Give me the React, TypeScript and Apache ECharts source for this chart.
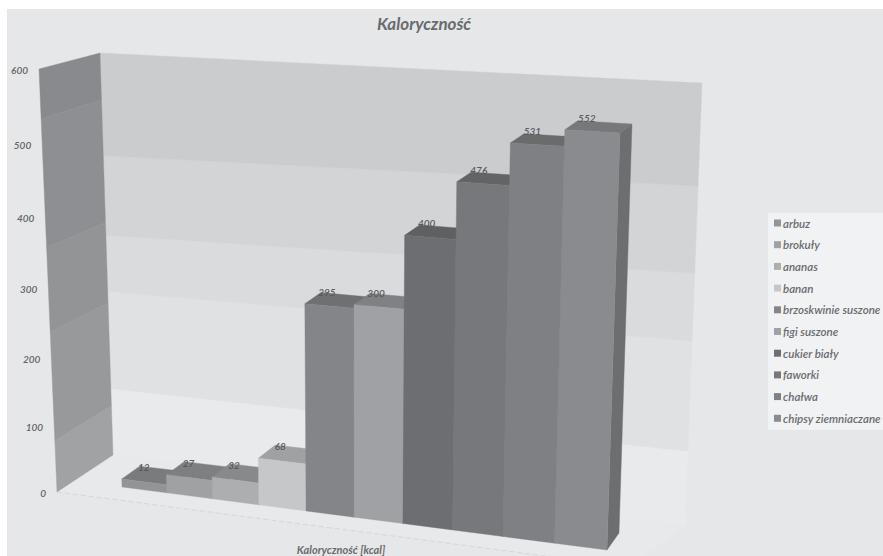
import React, { useEffect, useRef } from "react";
import * as echarts from "echarts";

// Foods and their energy values in kcal
const categories = [
  "arbuz",
  "brokuły",
  "ananas",
  "banan",
  "brzoskwinie suszone",
  "figi suszone",
  "cukier biały",
  "faworki",
  "chałwa",
  "chipsy ziemniaczane",
];
const kcalValues = [12, 27, 32, 68, 295, 300, 400, 476, 531, 552];
const yTicks = [0, 100, 200, 300, 400, 500, 600];

// Shades of each column: front, top
const frontColors = ["#939496", "#a0a1a3", "#adaeb0", "#c6c7c9", "#848588", "#a0a1a4", "#6d6e71", "#77787b", "#7f8083", "#8a8b8e"];
const topColors = ["#7a7b7d", "#7e7f81", "#88898b", "#a0a1a3", "#6f7072", "#808184", "#5f6062", "#636466", "#6a6b6d", "#77787a"];
const sideColor = "#6d6e70";

// Gradient-like steps on the walls, in axis units, at the wall's two vertical edges
const backWallStopsNear = [0, 103, 251, 335, 452, 600];
const backWallStopsFar = [0, 106, 258, 350, 466, 600];
const backWallColors = ["#e9eaec", "#e0e1e3", "#dadbdd", "#d3d4d6", "#cbccce"];
const sideWallStops = [0, 78, 237, 357, 534, 600];
const sideWallColors = ["#a1a2a4", "#98999b", "#939496", "#8e8f92", "#898a8d"];

type Pt = [number, number];

// Maps the unit square (u, v) on to a quadrilateral: a plane seen in perspective
function planeMap(bl: Pt, br: Pt, tr: Pt, tl: Pt) {
  const dx1 = br[0] - tr[0];
  const dx2 = tl[0] - tr[0];
  const sx = bl[0] - br[0] + tr[0] - tl[0];
  const dy1 = br[1] - tr[1];
  const dy2 = tl[1] - tr[1];
  const sy = bl[1] - br[1] + tr[1] - tl[1];
  const den = dx1 * dy2 - dx2 * dy1;
  const g = (sx * dy2 - dx2 * sy) / den;
  const h = (dx1 * sy - sx * dy1) / den;
  const a = br[0] - bl[0] + g * br[0];
  const b = tl[0] - bl[0] + h * tl[0];
  const c = bl[0];
  const d = br[1] - bl[1] + g * br[1];
  const e = tl[1] - bl[1] + h * tl[1];
  const f = bl[1];
  return (u: number, v: number): Pt => {
    const w = g * u + h * v + 1;
    return [(a * u + b * v + c) / w, (d * u + e * v + f) / w];
  };
}

// Hidden grid that supplies the scales
const GRID = { left: 100, top: 50, width: 500, height: 400 };
const BAR_REF = 552;

const frontPlane = planeMap([122, 487], [607, 550], [620, 133], [111, 103]);
const backPlane = planeMap([140, 474], [619, 533], [632, 124], [127, 94]);
const backWall = planeMap([113, 455], [685, 526], [702, 83], [100, 53]);
const sideWall = planeMap([57, 492], [113, 455], [100, 53], [39, 69]);

const FONT = "Lato, 'Open Sans', sans-serif";
const GREY_TEXT = "#6a6b6e";

const valueV = (api: any, value: number) => (GRID.top + GRID.height - api.coord([0, value])[1]) / GRID.height;
const poly = (points: Pt[], fill: string) => ({ type: "polygon", shape: { points }, style: { fill, stroke: fill, lineWidth: 0.4 } });
const label = (text: string, x: number, y: number, align: string, font: string, fill: string) => ({
  type: "text",
  x,
  y,
  style: { text, font, fill, align, textAlign: align, verticalAlign: "middle", textVerticalAlign: "middle" },
});

// Banded wall: each datum is one band between two axis values, given per edge
function bandSeries(
  name: string,
  map: (u: number, v: number) => Pt,
  stopsNear: number[],
  stopsFar: number[],
  colors: string[],
  z: number,
) {
  return {
    type: "custom",
    name,
    coordinateSystem: "cartesian2d",
    silent: true,
    z,
    encode: { x: 0, y: 1 },
    data: colors.map((_, i) => [0, stopsNear[i], stopsNear[i + 1], stopsFar[i], stopsFar[i + 1]]),
    renderItem: (params: any, api: any) => {
      const lo0 = valueV(api, api.value(1));
      const hi0 = valueV(api, api.value(2));
      const lo1 = valueV(api, api.value(3));
      const hi1 = valueV(api, api.value(4));
      return poly([map(0, lo0), map(1, lo1), map(1, hi1), map(0, hi0)], colors[params.dataIndex]);
    },
  };
}

// One column: right side, top and front, then its value above the top face
function columnSeries(index: number) {
  return {
    type: "custom",
    name: categories[index],
    coordinateSystem: "cartesian2d",
    z: 10 + index,
    itemStyle: { color: frontColors[index] },
    encode: { x: 0, y: 1 },
    data: [[index, kcalValues[index]]],
    renderItem: (_: any, api: any) => {
      const value = api.value(1);
      const centre = api.coord([api.value(0), value]);
      const band = api.size([1, 0])[0];
      const u0 = (centre[0] - band / 2 - GRID.left) / GRID.width;
      const u1 = (centre[0] + band / 2 - GRID.left) / GRID.width;
      const v = (valueV(api, value) * 600) / BAR_REF;
      const fl = frontPlane(u0, v);
      const fr = frontPlane(u1, v);
      const bl = backPlane(u0, v);
      const br = backPlane(u1, v);
      const fr0 = frontPlane(u1, 0);
      const br0 = backPlane(u1, 0);
      const fl0 = frontPlane(u0, 0);
      return {
        type: "group",
        children: [
          poly([fr, br, br0, fr0], sideColor),
          poly([fl, bl, br, fr], topColors[index]),
          poly([fl, fr, fr0, fl0], frontColors[index]),
          label(String(value), fl[0] + 22, fl[1] - 12, "center", `italic 600 10px ${FONT}`, "#58595c"),
        ],
      };
    },
  };
}

function buildOption() {
  return {
    animation: false,
    backgroundColor: "#ffffff",
    title: [
      {
        text: "Kaloryczność",
        left: 424,
        top: 14,
        padding: 0,
        textAlign: "center",
        textStyle: { fontFamily: FONT, fontStyle: "italic", fontWeight: 700, fontSize: 17, lineHeight: 18, color: GREY_TEXT },
      },
      {
        text: "Kaloryczność [kcal]",
        left: 341,
        top: 543,
        textAlign: "center",
        padding: 0,
        textStyle: { fontFamily: FONT, fontStyle: "italic", fontWeight: 700, fontSize: 11, lineHeight: 12, color: GREY_TEXT },
      },
    ],
    graphic: [
      { type: "rect", z: 0, shape: { x: 7, y: 9, width: 876, height: 547 }, style: { fill: "#e6e7e9" } },
      { type: "rect", z: 1, shape: { x: 768, y: 213, width: 115, height: 217 }, style: { fill: "#f1f2f4" } },
    ],
    legend: {
      data: categories,
      orient: "vertical",
      left: 774,
      top: 217,
      padding: 0,
      itemWidth: 7,
      itemHeight: 7,
      itemGap: 9.7,
      icon: "rect",
      textStyle: {
        fontFamily: FONT,
        fontStyle: "italic",
        fontWeight: 600,
        fontSize: 11.5,
        lineHeight: 12,
        color: GREY_TEXT,
        padding: [0, 0, 0, -3],
      },
    },
    grid: GRID,
    xAxis: { type: "category", data: categories, show: false },
    yAxis: { type: "value", min: 0, max: 600, show: false },
    series: [
      {
        type: "custom",
        name: "podłoga",
        coordinateSystem: "cartesian2d",
        silent: true,
        z: 1,
        encode: { x: 0, y: 1 },
        data: [[0, 0]],
        renderItem: () => ({
          type: "group",
          children: [
            poly([[57, 492], [113, 455], [685, 526], [632, 566]], "#e8e9eb"),
            {
              type: "line",
              shape: { x1: 57, y1: 492, x2: 545, y2: 556 },
              style: { stroke: "#d6d7d9", lineWidth: 1, lineDash: [5, 3] },
            },
          ],
        }),
      },
      bandSeries("ściana tylna", backWall, backWallStopsNear, backWallStopsFar, backWallColors, 2),
      bandSeries("ściana boczna", sideWall, sideWallStops, sideWallStops, sideWallColors, 3),
      {
        type: "custom",
        name: "oś wartości",
        coordinateSystem: "cartesian2d",
        silent: true,
        z: 4,
        encode: { x: 0, y: 1 },
        data: yTicks.map((tick) => [0, tick]),
        renderItem: (_: any, api: any) => {
          const tick = api.value(1);
          const p = sideWall(0, valueV(api, tick));
          return label(String(tick), p[0] - 11, p[1] + 1, "right", `italic 600 10px ${FONT}`, "#626366");
        },
      },
      ...categories.map((_, i) => columnSeries(i)),
    ],
  };
}

export default function App() {
  const ref = useRef<HTMLDivElement>(null);
  useEffect(() => {
    const chart = echarts.init(ref.current!, null, { renderer: "svg" });
    chart.setOption(buildOption() as any);
    return () => chart.dispose();
  }, []);
  return <div ref={ref} style={{ position: "absolute", left: 0, top: 0, width: 883, height: 556 }} />;
}
